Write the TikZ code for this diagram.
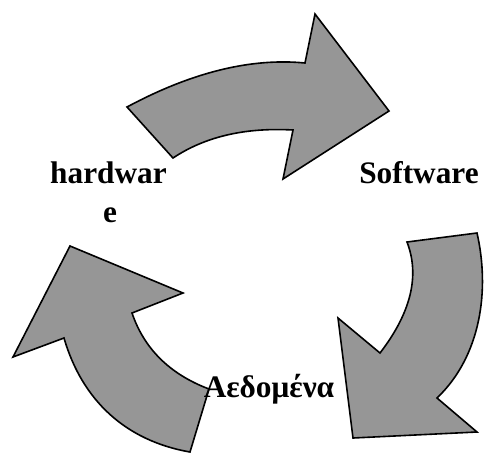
\documentclass[tikz,border=0pt]{standalone}
\usepackage{fontspec}
\setmainfont{Liberation Serif}
\definecolor{arrowgray}{RGB}{150,150,150}
\begin{document}
\begin{tikzpicture}[x=1pt,y=-1pt,
  blockarrow/.style={fill=arrowgray,draw=black,line width=1.6pt,line join=miter},
  label/.style={anchor=base,inner sep=0pt,font=\bfseries\fontsize{31.3}{39}\selectfont}]
\useasboundingbox (0,0) rectangle (484,453);
% top arrow
\path[blockarrow] (127,107) .. controls (191.7,72.3) and (251,57.7) .. (305,63)
  -- (315,14) -- (389,111) -- (283,179) -- (293,130)
  .. controls (245,127.3) and (205,136.7) .. (173,158) -- cycle;
% right arrow
\path[blockarrow] (407,242) -- (477,233)
  .. controls (490,290) and (481,356) .. (437,398)
  -- (477,432) -- (353,438) -- (338,318) -- (380,353)
  .. controls (411,312.7) and (420,275.7) .. (407,242) -- cycle;
% left arrow
\path[blockarrow] (190,452) -- (209,389)
  .. controls (169.3,374) and (144,348.3) .. (132,313)
  -- (183,293) -- (70,246) -- (13,357) -- (64,338)
  .. controls (82,400) and (125.3,440.7) .. (190,452) -- cycle;
% labels
\node[label] (hw1) at (108.5,183) {hardwar};
\node[label] (hw2) at (110,222) {e};
\node[label] (sw) at (419,183) {Software};
\node[label] (data) at (269,397) {Αεδομένα};
\end{tikzpicture}
\end{document}
